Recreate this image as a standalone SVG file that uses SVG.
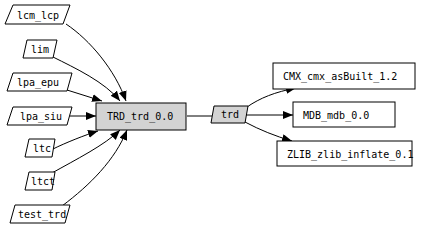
<svg xmlns="http://www.w3.org/2000/svg" width="421" height="229" viewBox="0 0 421 229">
<defs>
<style>
.n{fill:#fff;stroke:#000;stroke-width:1}
.g{fill:#d3d3d3;stroke:#000;stroke-width:1}
.t{font-family:"DejaVu Sans Mono","Liberation Mono",monospace;font-size:10px;fill:#000;text-anchor:start}
.e{fill:none;stroke:#000;stroke-width:1}
.a{marker-end:url(#arr)}
</style>
<marker id="arr" markerUnits="userSpaceOnUse" markerWidth="11" markerHeight="9" refX="10" refY="4" orient="auto">
<path d="M0,0 L10,4 L0,8 z" fill="#000"/>
</marker>
</defs>
<rect width="421" height="229" fill="#fff"/>
<g id="connectors">
<path class="e a" d="M66,24 C90,40 115,70 126,101"/>
<path class="e a" d="M53,57 C75,68 105,82 120,101"/>
<path class="e a" d="M67,90 L102,101"/>
<path class="e a" d="M70,116 L96,116"/>
<path class="e a" d="M53,149 C65,143 85,135 98,131"/>
<path class="e a" d="M52,173 C75,160 105,145 120,130"/>
<path class="e a" d="M62,206 C90,185 115,160 127,130"/>
<path class="e" d="M187,116 L212,116"/>
<path class="e a" d="M247,107 C260,98 275,92 296,88"/>
<path class="e a" d="M246,115 L293,115"/>
<path class="e a" d="M245,122 C260,130 275,136 292,141"/>
</g>
<g id="lcm_lcp"><polygon class="n" points="13,5 70,5 63,24 5,24"/><text class="t" x="17" y="19">lcm_lcp</text></g>
<g id="lim"><polygon class="n" points="27,40 57,40 53,58 23,58"/><text class="t" x="31" y="53">lim</text></g>
<g id="lpa_epu"><polygon class="n" points="13,73 72,73 67,91 7,91"/><text class="t" x="17" y="86">lpa_epu</text></g>
<g id="lpa_siu"><polygon class="n" points="13,107 72,107 67,125 7,125"/><text class="t" x="20" y="120">lpa_siu</text></g>
<g id="ltc"><polygon class="n" points="29,139 55,139 52,157 25,157"/><text class="t" x="33" y="152">ltc</text></g>
<g id="ltct"><polygon class="n" points="29,172 55,172 52,190 25,190"/><text class="t" x="31" y="185">ltct</text></g>
<g id="test_trd"><polygon class="n" points="15,205 70,205 65,223 10,223"/><text class="t" x="18" y="218">test_trd</text></g>
<g id="TRD_trd_0.0"><rect class="g" x="96" y="103" width="90" height="27"/><text class="t" x="107" y="120">TRD_trd_0.0</text></g>
<g id="trd"><polygon class="g" points="214,106 248,106 245,123 211,123"/><text class="t" x="221" y="118">trd</text></g>
<g id="CMX_cmx_asBuilt_1.2"><rect class="n" x="273" y="63" width="142" height="26"/><text class="t" x="283" y="80">CMX_cmx_asBuilt_1.2</text></g>
<g id="MDB_mdb_0.0"><rect class="n" x="293" y="102" width="102" height="25"/><text class="t" x="303" y="119">MDB_mdb_0.0</text></g>
<g id="ZLIB_zlib_inflate_0.1"><rect class="n" x="277" y="141" width="135" height="25"/><text class="t" x="287" y="158">ZLIB_zlib_inflate_0.1</text></g>
</svg>
